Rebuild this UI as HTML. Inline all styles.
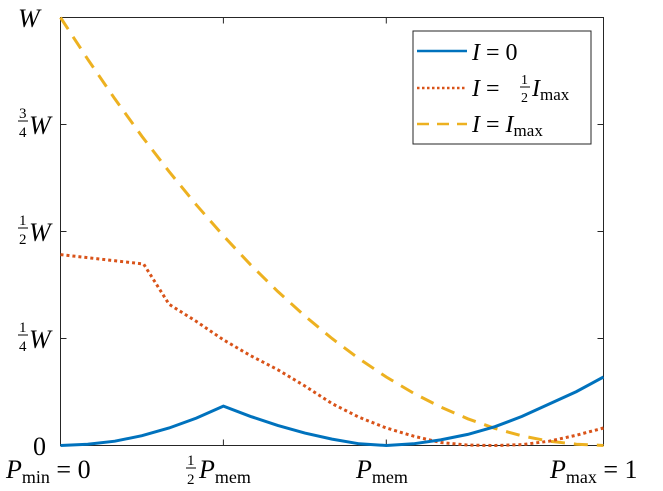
<!DOCTYPE html>
<html><head><meta charset="utf-8"><style>
body{margin:0;background:#fff}
svg{display:block;font-family:"Liberation Serif",serif}
</style></head><body>
<svg width="663" height="491" viewBox="0 0 663 491" xmlns="http://www.w3.org/2000/svg">
<rect x="60.5" y="17.5" width="543" height="428" fill="#fff" stroke="#262626" stroke-width="1"/>
<g id="ticks"></g>
<g id="series"></g>
<g font-size="26" fill="#000">
 <text x="33" y="455">0</text>
 <g><text x="19" y="332" font-size="15">1</text><line x1="18" y1="335" x2="28" y2="335" stroke="#000"/><text x="19" y="351" font-size="15">4</text><text x="29" y="348" font-style="italic">W</text></g>
 <g><text x="19" y="225" font-size="15">1</text><line x1="18" y1="228" x2="28" y2="228" stroke="#000"/><text x="19" y="244" font-size="15">2</text><text x="29" y="241" font-style="italic">W</text></g>
 <g><text x="19" y="118" font-size="15">3</text><line x1="18" y1="121" x2="28" y2="121" stroke="#000"/><text x="19" y="137" font-size="15">4</text><text x="29" y="134" font-style="italic">W</text></g>
 <text x="18" y="27" font-style="italic">W</text>
</g>
<g font-size="26" fill="#000">
 <text x="6" y="478"><tspan font-style="italic">P</tspan><tspan font-size="18" dy="5">min</tspan><tspan dy="-5"> = 0</tspan></text>
 <g><text x="187" y="465" font-size="15">1</text><line x1="186" y1="468" x2="196" y2="468" stroke="#000"/><text x="187" y="484" font-size="15">2</text><text x="199" y="478"><tspan font-style="italic">P</tspan><tspan font-size="18" dy="5">mem</tspan></text></g>
 <text x="356" y="478"><tspan font-style="italic">P</tspan><tspan font-size="18" dy="5">mem</tspan></text>
 <text x="550" y="478"><tspan font-style="italic">P</tspan><tspan font-size="18" dy="5">max</tspan><tspan dy="-5"> = 1</tspan></text>
</g>
<g>
 <rect x="413" y="31" width="178" height="113" fill="#fff" stroke="#262626"/>
 <line x1="417" y1="51" x2="467" y2="51" stroke="#0072BD" stroke-width="2.5"/>
 <text x="472" y="60" font-size="24"><tspan font-style="italic">I</tspan> = 0</text>
 <line x1="417" y1="88" x2="467" y2="88" stroke="#D95319" stroke-width="2.5" stroke-dasharray="2.5 2.5"/>
 <g font-size="24"><text x="472" y="96"><tspan font-style="italic">I</tspan> = </text><text x="521" y="84" font-size="14">1</text><line x1="520" y1="87" x2="530" y2="87" stroke="#000"/><text x="521" y="102" font-size="14">2</text><text x="532" y="96"><tspan font-style="italic">I</tspan><tspan font-size="17" dy="4">max</tspan></text></g>
 <line x1="417" y1="124" x2="467" y2="124" stroke="#EDB120" stroke-width="2.5" stroke-dasharray="12 8"/>
 <text x="472" y="132" font-size="24"><tspan font-style="italic">I</tspan> = <tspan font-style="italic">I</tspan><tspan font-size="17" dy="4">max</tspan></text>
</g>
</svg>
<script>
const xs = [0,0.05,0.1,0.15,0.2,0.25,0.3,0.35,0.4,0.45,0.5,0.55,0.6,0.65,0.7,0.75,0.8,0.85,0.9,0.95,1];
const seriesI0 = [0,0.003,0.01,0.023,0.041,0.064,0.092,0.068,0.047,0.029,0.015,0.004,0,0.004,0.013,0.026,0.044,0.068,0.097,0.126,0.16];
const redXs = [0,0.153,0.2,0.25,0.3,0.35,0.4,0.45,0.5,0.55,0.6,0.65,0.7,0.75,0.8,0.85,0.9,0.95,1];
const seriesIHalf = [0.446,0.424,0.33,0.29,0.247,0.21,0.177,0.139,0.098,0.066,0.041,0.022,0.007,0.001,0,0.002,0.01,0.024,0.041];
const seriesIMax = [1,0.9025,0.81,0.7225,0.64,0.5625,0.49,0.4225,0.36,0.3025,0.25,0.2025,0.16,0.1225,0.09,0.0625,0.04,0.0225,0.01,0.003,0];
const xTicks = [0,0.3,0.6,1];
const yTicks = [0,0.25,0.5,0.75,1];
const X0=60.5,X1=603.5,Y0=445.5,Y1=17.5;
const sx=v=>X0+v*(X1-X0), sy=v=>Y0-v*(Y0-Y1);
const NS="http://www.w3.org/2000/svg";
const tg=document.getElementById('ticks'), sg=document.getElementById('series');
xTicks.forEach(t=>{[[Y0,Y0-6],[Y1,Y1+6]].forEach(([a,b])=>{const l=document.createElementNS(NS,'line');


l.setAttribute('x1',sx(t));l.setAttribute('x2',sx(t));l.setAttribute('y1',a);l.setAttribute('y2',b);l.setAttribute('stroke','#262626');tg.appendChild(l);});});
yTicks.forEach(t=>{[[X0,X0+6],[X1,X1-6]].forEach(([a,b])=>{const l=document.createElementNS(NS,'line');


l.setAttribute('y1',sy(t));l.setAttribute('y2',sy(t));l.setAttribute('x1',a);l.setAttribute('x2',b);l.setAttribute('stroke','#262626');tg.appendChild(l);});});
function line(xv,yv,color,dash,name){const p=document.createElementNS(NS,'path');


p.setAttribute('d',xv.map((x,i)=>(i?'L':'M')+sx(x).toFixed(1)+' '+sy(yv[i]).toFixed(1)).join(' '));
p.setAttribute('fill','none');p.setAttribute('stroke',color);p.setAttribute('stroke-width','3');
if(dash)p.setAttribute('stroke-dasharray',dash);sg.appendChild(p);}
line(xs,seriesIMax,'#EDB120','14 9','line-i-max');
line(redXs,seriesIHalf,'#D95319','3 3','line-i-half');
line(xs,seriesI0,'#0072BD',null,'line-i-zero');
</script>
</body></html>
